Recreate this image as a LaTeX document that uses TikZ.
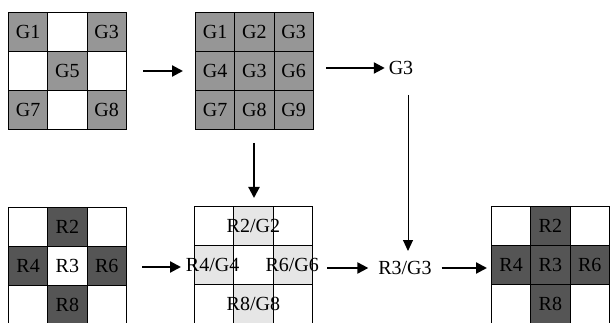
\documentclass[tikz,border=0pt]{standalone}
\usepackage{fontspec}
\setmainfont{Liberation Serif}
\usetikzlibrary{arrows.meta}
\definecolor{gmid}{HTML}{969696}
\definecolor{rdark}{HTML}{555555}
\definecolor{lite}{HTML}{E6E6E6}
\begin{document}
\begin{tikzpicture}[x=1pt,y=-1pt,
  font=\fontsize{20}{20}\selectfont,
  cell/.style={draw=black, line width=0.9pt, minimum width=39.3pt, minimum height=39pt, inner sep=0pt, anchor=north west, fill=white},
  gc/.style={cell, fill=gmid},
  rc/.style={cell, fill=rdark},
  lc/.style={cell, fill=lite},
  lbl/.style={inner sep=1pt},
  arr/.style={line width=2.2pt, -{Triangle[length=11pt,width=11pt]}},
  thinarr/.style={line width=1pt, -{Triangle[length=11pt,width=10pt]}}]
\useasboundingbox (0,0) rectangle (610,323);
\fill[white] (0,0) rectangle (610,323);
% Grid A (top-left)
\node[gc] (a11) at (8,12) {G1};
\node[cell] (a12) at (47.3,12) {};
\node[gc] (a13) at (86.6,12) {G3};
\node[cell] (a21) at (8,51) {};
\node[gc] (a22) at (47.3,51) {G5};
\node[cell] (a23) at (86.6,51) {};
\node[gc] (a31) at (8,90) {G7};
\node[cell] (a32) at (47.3,90) {};
\node[gc] (a33) at (86.6,90) {G8};
% Grid B (top-middle)
\node[gc] (b11) at (195,12) {G1};
\node[gc] (b12) at (234.3,12) {G2};
\node[gc] (b13) at (273.6,12) {G3};
\node[gc] (b21) at (195,51) {G4};
\node[gc] (b22) at (234.3,51) {G3};
\node[gc] (b23) at (273.6,51) {G6};
\node[gc] (b31) at (195,90) {G7};
\node[gc] (b32) at (234.3,90) {G8};
\node[gc] (b33) at (273.6,90) {G9};
% Grid C (bottom-left)
\node[cell] (c11) at (8,207) {};
\node[rc] (c12) at (47.3,207) {R2};
\node[cell] (c13) at (86.6,207) {};
\node[rc] (c21) at (8,246) {R4};
\node[cell] (c22) at (47.3,246) {R3};
\node[rc] (c23) at (86.6,246) {R6};
\node[cell] (c31) at (8,285) {};
\node[rc] (c32) at (47.3,285) {R8};
\node[cell] (c33) at (86.6,285) {};
% Grid D (bottom-middle)
\node[cell] (d11) at (194,206) {};
\node[lc] (d12) at (233.3,206) {};
\node[cell] (d13) at (272.6,206) {};
\node[lc] (d21) at (194,245) {};
\node[cell] (d22) at (233.3,245) {};
\node[lc] (d23) at (272.6,245) {};
\node[cell] (d31) at (194,284) {};
\node[lc] (d32) at (233.3,284) {};
\node[cell] (d33) at (272.6,284) {};
\node[lbl] (t12) at (d12.center) {R2/G2};
\node[lbl] (t21) at ([xshift=-1.5pt]d21.center) {R4/G4};
\node[lbl] (t23) at ([xshift=-0.5pt]d23.center) {R6/G6};
\node[lbl] (t32) at (d32.center) {R8/G8};
% Grid E (bottom-right)
\node[cell] (e11) at (491,206) {};
\node[rc] (e12) at (530.3,206) {R2};
\node[cell] (e13) at (569.6,206) {};
\node[rc] (e21) at (491,245) {R4};
\node[rc] (e22) at (530.3,245) {R3};
\node[rc] (e23) at (569.6,245) {R6};
\node[cell] (e31) at (491,284) {};
\node[rc] (e32) at (530.3,284) {R8};
\node[cell] (e33) at (569.6,284) {};
% labels
\node[lbl, outer sep=3pt] (g3) at (401,68) {G3};
\node[lbl, outer sep=9pt] (r3g3) at (405,268) {R3/G3};
% connectors
\coordinate (ab1) at (143,71);
\coordinate (ab2) at (183,71);
\draw[arr] (ab1) -- (ab2);
\coordinate (bg1) at (326,68);
\draw[arr] (bg1) -- (g3.west);
\coordinate (bd1) at (254,143);
\coordinate (bd2) at (254,198);
\draw[arr] (bd1) -- (bd2);
\coordinate (cd1) at (142,267);
\coordinate (cd2) at (181,267);
\draw[arr] (cd1) -- (cd2);
\coordinate (gr1) at (408,95);
\coordinate (gr2) at (408,251);
\draw[thinarr] (gr1) -- (gr2);
\coordinate (dr1) at (327,268);
\draw[arr] (dr1) -- (r3g3.west);
\coordinate (re2) at (487,268);
\draw[arr] (r3g3.east) -- (re2);
\end{tikzpicture}
\end{document}
